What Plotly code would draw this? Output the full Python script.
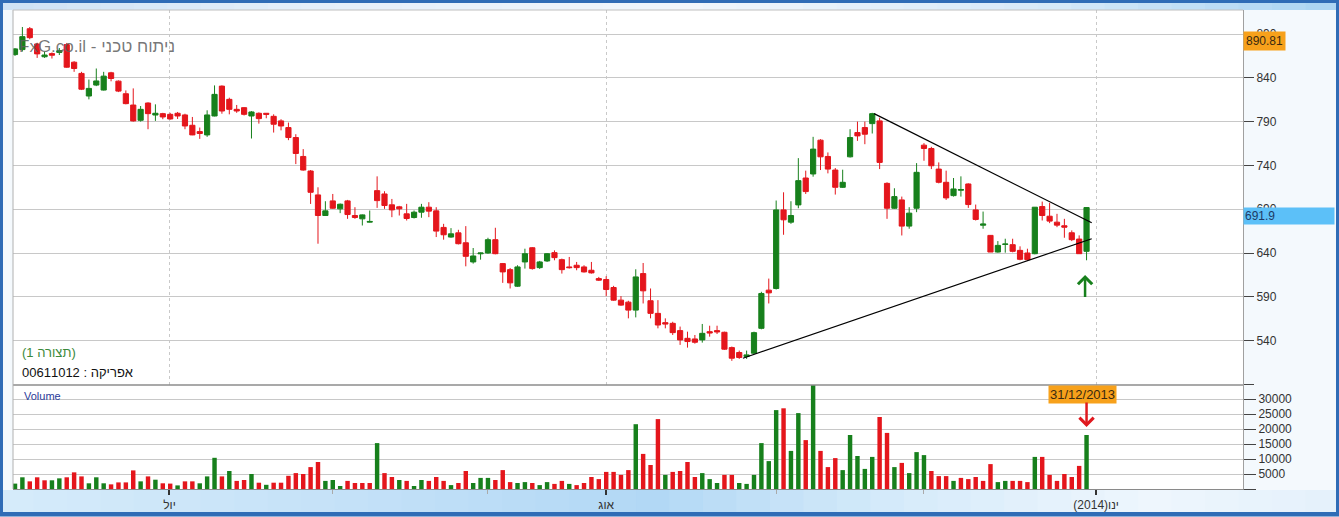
import plotly.graph_objects as go

# ---------------- data ----------------
idx = list(range(1, 147))

open_ = [866.5, 872.2, 896, 878.6, 864, 867.6, 869, 877.9, 857.8, 845,
         819.2, 831.7, 826, 845.7, 836.2, 821.8, 808.9, 791.5, 811.2, 797.5,
         799.1, 798.3, 799.5, 797.6, 785.8, 778.6, 774.8, 796.4, 830.5, 815.4,
         804, 805.9, 796.4, 799.5, 799.5, 796, 790.8, 783.2, 771.8, 750.2,
         733.6, 706.3, 682.8, 699.5, 690.4, 699.5, 682.8, 679, 675.2, 711.2,
         707.4, 695, 692.7, 684.7, 680.5, 686.6, 692.3, 688.1, 669.2, 658.2,
         663, 651.7, 629.8, 639.1, 640, 655.2, 627.9, 621, 602.1, 629.8,
         646, 623.3, 630.9, 640.4, 632.4, 624.1, 626, 624.1, 620.3, 610.8,
         609.7, 600.6, 586.2, 583.9, 574.8, 616.5, 585.5, 571.1, 560.5, 559.7,
         551.4, 542.6, 541.9, 540.8, 550.2, 551.4, 549.5, 532, 526.4, 521.8,
         525.6, 554, 597.6, 599.5, 689.2, 675.2, 694.9, 725.6, 730.2, 768.8,
         750.2, 734.7, 715, 749.8, 777.5, 783.2, 787.7, 790.8, 719.5, 691.1,
         700.6, 670.7, 691.1, 763.1, 759.3, 735.8, 720.7, 705.5, 711.6, 718.8,
         689.2, 671.7, 660.1, 641.1, 649.8, 649.5, 643, 640, 639.2, 693,
         682, 675.2, 671.1, 663.1, 655.9, 641.9]

high = [874, 898, 898, 880, 869.5, 869, 874, 879.8, 859, 846.8,
        838, 850.6, 846.8, 846.8, 837, 825.6, 827.9, 807.8, 812, 809.7,
        800, 800, 801, 799, 795.3, 783.2, 802.9, 831.3, 831.3, 817.3,
        809, 806.5, 802, 800.5, 799.8, 798.3, 792.7, 788.9, 775.6, 758.6,
        734.7, 715, 699.1, 707.4, 696.5, 700.6, 692.3, 684, 688.5, 727.5,
        710.5, 701.7, 693.8, 696.1, 688.5, 696.1, 698, 692.3, 673.3, 668.4,
        666.5, 670.7, 645.7, 640.4, 657.4, 668.8, 628.6, 622.9, 626, 644.9,
        646.8, 631, 640, 643, 633.6, 635.5, 629.8, 626, 629.8, 612.7,
        613.5, 602.5, 590.8, 585.5, 621.4, 628.6, 599.5, 586.2, 565.4, 561.5,
        556, 550.2, 546.4, 559, 557, 557, 550.2, 533.2, 528.6, 528.6,
        550.2, 595.7, 610.8, 699.9, 709.3, 699.1, 748.3, 734, 772.6, 769.9,
        754.8, 737, 735.1, 781.3, 790, 790, 800, 794.5, 720.7, 713.9,
        704.4, 692.3, 742.6, 765.4, 761.2, 743.4, 734, 725.6, 727.5, 719.5,
        695.3, 687.3, 660.5, 653.6, 656.3, 656.3, 647.6, 644.9, 692.3, 698.7,
        697.2, 684.7, 679, 665.8, 660.1, 692.3]

low = [865, 870, 884, 862.7, 862.7, 862, 866, 851.4, 846.8, 826,
       815.4, 830.5, 825.5, 836, 823.7, 809.7, 790, 790, 781.3, 790.8,
       792.7, 792.3, 793, 781.3, 774.5, 770.3, 772.6, 796, 799, 798.3,
       800, 797, 770.7, 787.7, 793.8, 777.5, 780, 768.8, 741.5, 734,
       696, 650.6, 682.5, 690.4, 685.5, 679, 679, 671.4, 674.8, 691.5,
       690.4, 680.9, 682.8, 677.1, 679.4, 680.2, 680.9, 658.2, 655.2, 657.4,
       649.8, 624.8, 627.9, 632.4, 639.2, 638.5, 605.9, 599.5, 601.3, 622.2,
       621, 621.8, 629.8, 631.7, 616.5, 622.2, 620.3, 617.7, 616.5, 608,
       590.8, 585.5, 579.7, 565.4, 566.5, 582.4, 565.4, 554, 554, 546.4,
       535.1, 532, 536.5, 537.7, 544.5, 547.5, 529.4, 516.9, 519.1, 519.1,
       524.8, 552.9, 582.4, 598.3, 660.8, 673.3, 691.1, 707.4, 727.1, 734.7,
       730.9, 706.7, 714.2, 749, 768, 764.2, 776.4, 735.8, 679, 690.4,
       660, 667.7, 686.6, 745.3, 735.8, 719.5, 700.6, 704.4, 704.4, 691.5,
       677.1, 667.7, 641.1, 640.4, 640.4, 640.8, 631.7, 630.9, 638.5, 677.1,
       674.1, 669.5, 657.4, 653.6, 638.9, 631.7]

close = [873, 887, 885.8, 867.3, 866, 865.8, 871, 852.1, 850.6, 827,
         827.9, 836.4, 841.9, 839.2, 824.8, 810.5, 790.8, 804, 799.1, 799.5,
         795.3, 793, 796.4, 785, 774.8, 776.4, 797.6, 821.1, 802.1, 804,
         802.1, 798.3, 801, 793.4, 798.3, 787, 785, 771.8, 753.6, 734.7,
         709.3, 682.8, 688.1, 691.1, 695.7, 683.9, 680.5, 683.5, 676, 699.8,
         694.2, 689.2, 690.4, 679.4, 686.6, 692.3, 687.8, 665, 660.8, 661.9,
         650.6, 636.2, 636.6, 640, 655.2, 639.2, 618.4, 605.9, 624.1, 639.2,
         622.2, 629.8, 639.2, 634.7, 621, 623.3, 623.3, 618.4, 617.3, 609,
         598.3, 586.2, 580.5, 574.8, 612.7, 596.8, 571.1, 557.8, 558.9, 549.1,
         540.8, 538.9, 538.1, 548.3, 548.7, 549.9, 530.2, 519.9, 520.7, 523.7,
         549.1, 593.8, 594.5, 689.2, 677.9, 682.8, 722.6, 710.1, 758.6, 749.8,
         735.8, 715, 720.7, 771.8, 773.7, 775.6, 799.1, 743.4, 691.1, 704.4,
         670.7, 685.5, 732.1, 759.3, 739.6, 720.7, 702.9, 713.1, 712.5, 695.3,
         678.3, 673.1, 641.1, 648.7, 650.2, 641.9, 632.8, 632.4, 692.3, 682.8,
         676.4, 671.8, 669.5, 655.2, 639.2, 691.9]

volume = [1800, 3900, 2550, 3900, 2900, 2900, 3550, 3900, 5550, 4200,
          1900, 3900, 1900, 1550, 2200, 2200, 6200, 2550, 4200, 3100,
          1900, 1800, 1200, 2550, 2550, 1900, 4200, 10400, 4200, 6000,
          2700, 3000, 5000, 2100, 1400, 2100, 2100, 4400, 5300, 5000,
          7300, 9000, 2700, 3000, 1000, 2700, 2000, 2000, 2000, 15300,
          5300, 4000, 3000, 2700, 1000, 3000, 2700, 4000, 2700, 1300,
          2000, 6000, 2000, 3700, 3700, 3000, 6300, 2300, 2000, 2300,
          2000, 1300, 2300, 1700, 2700, 1700, 1300, 2000, 4000, 3300,
          5700, 5700, 4700, 6300, 21600, 11700, 8000, 23300, 4700, 5700,
          6000, 9000, 4000, 5300, 3300, 2000, 4700, 4700, 2000, 1700,
          4700, 15300, 9300, 26300, 26900, 12700, 25300, 16300, 35000, 12700,
          7300, 10300, 6300, 18000, 11000, 6700, 10700, 24000, 18700, 7300,
          8700, 5300, 12300, 11300, 6000, 4300, 4300, 2700, 3700, 3300,
          4000, 2700, 8300, 2300, 2700, 2700, 2700, 2300, 10700, 10700,
          4700, 2700, 5000, 4000, 7700, 18000]

vol_dir = list("GGRRRGGRRR" "GGGRRRRGRG" "RRGRRGGGRG" "RRGRGRRRRR"
               "RRGGGRRRRG" "RRGRGGRRRG" "RRGGGRRRGG" "RGGRRGRRRR"
               "RRRRGRRRGR" "RRRGGGRRGG" "GGGGRGGRGR" "RRGGGGGRRG"
               "RGGGRRRGRR" "RRRGGRRRGR" "RRRRRG")

# trend lines (index, price)
upper_x = [117.25, 146.7]
upper_y = [799.1, 674.5]
lower_x = [99.5, 146.7]
lower_y = [519.9, 656.3]

price_ticks = [490, 540, 590, 640, 690, 740, 790, 840, 890]
price_tick_text = [""] + [str(v) for v in price_ticks[1:]]
vol_ticks = [0, 5000, 10000, 15000, 20000, 25000, 30000]
vol_tick_text = [""] + [str(v) for v in vol_ticks[1:]]

month_pos = [21.9, 81.0, 147.3]
month_labels = ["יול", "אוג", "(2014)ינו"]
minor_pos = [43.9, 64.9, 104.0, 124.0]

last_label = "691.9"
max_label = "890.81"
max_value = 890.81
date_label = "31/12/2013"

# ---------------- geometry ----------------
W, H = 1339, 517
ML, MR, MT, MB = 13, 96, 10, 28
PW = W - ML - MR
PH = H - MT - MB
STEP = 7.39
xmin = 1 - (15 - ML) / STEP
xmax = xmin + PW / STEP
PPX = 0.876
p_top = 640 + (253 - MT) / PPX
p_bot = 640 - (385 - 253) / PPX
vol_top = (H - MB - 385) / 15 * 5000


def px_x(px):
    return (px - ML) / PW


def px_y(py):
    return (H - MB - py) / PH


split = px_y(385)

GREEN = "#17801c"
RED = "#e4161c"
FONT = "Liberation Sans"

fig = go.Figure()
fig.add_trace(go.Candlestick(
    x=idx, open=open_, high=high, low=low, close=close,
    xaxis="x", yaxis="y",
    increasing=dict(line=dict(color=GREEN, width=1), fillcolor=GREEN),
    decreasing=dict(line=dict(color=RED, width=1), fillcolor=RED),
    whiskerwidth=0, hoverinfo="skip", showlegend=False))
fig.add_trace(go.Scatter(x=upper_x, y=upper_y, mode="lines",
                         line=dict(color="black", width=1.2),
                         xaxis="x", yaxis="y", hoverinfo="skip", showlegend=False))
fig.add_trace(go.Scatter(x=lower_x, y=lower_y, mode="lines",
                         line=dict(color="black", width=1.2),
                         xaxis="x", yaxis="y", hoverinfo="skip", showlegend=False))
fig.add_trace(go.Bar(x=idx, y=volume,
                     marker=dict(color=[GREEN if d == "G" else RED for d in vol_dir],
                                 line=dict(width=0)),
                     width=0.6, xaxis="x2", yaxis="y2",
                     hoverinfo="skip", showlegend=False))

axis_font = dict(family=FONT, size=12, color="#333")

fig.update_layout(
    width=W, height=H,
    autosize=False,
    margin=dict(l=ML, r=MR, t=MT, b=MB, pad=0, autoexpand=False),
    paper_bgcolor="#f4f9fd",
    plot_bgcolor="white",
    boxgap=0.3, boxgroupgap=0,
    showlegend=False,
    hovermode=False,
    xaxis=dict(domain=[0, 1], anchor="y", range=[xmin, xmax], automargin=False,
               tickvals=month_pos, showticklabels=False, ticks="",
               showgrid=True, griddash="dot", gridcolor="#c9c9c9", gridwidth=1,
               zeroline=False, rangeslider=dict(visible=False), fixedrange=True),
    yaxis=dict(domain=[split, 1], anchor="x", side="right", automargin=False,
               range=[p_bot, p_top], tickvals=price_ticks, ticktext=price_tick_text,
               ticks="outside", ticklen=10, tickcolor="#444", tickwidth=1,
               tickfont=axis_font, showgrid=True, gridcolor="#c8c8c8",
               showline=True, linecolor="#a0a0a0", zeroline=False),
    xaxis2=dict(domain=[0, 1], anchor="y2", range=[xmin, xmax], automargin=False,
                tickvals=month_pos, ticktext=month_labels,
                ticks="outside", ticklen=5, tickwidth=2, tickcolor="#333",
                tickfont=axis_font, showgrid=False, zeroline=False,
                showline=True, linecolor="#8a8a8a",
                minor=dict(tickvals=minor_pos, ticks="outside", ticklen=4,
                           tickcolor="#aaa", tickwidth=1, showgrid=False)),
    yaxis2=dict(domain=[0, split], anchor="x2", side="right", automargin=False,
                range=[0, vol_top], tickvals=vol_ticks, ticktext=vol_tick_text,
                ticks="outside", ticklen=12, tickcolor="#444", tickwidth=1,
                tickfont=dict(family=FONT, size=12, color="#333"),
                showgrid=True, gridcolor="#c8c8c8",
                showline=True, linecolor="#a0a0a0", zeroline=False),
)

shapes = []
# gradient strips (top & bottom) drawn as segments
bottom_stops = [(0, (214, 235, 250)), (350, (196, 225, 248)), (650, (178, 216, 245)),
                (900, (214, 235, 250)), (1150, (238, 246, 253)), (1339, (228, 240, 251))]
top_stops = [(0, (206, 226, 245)), (300, (228, 239, 250)), (700, (240, 246, 252)),
             (1050, (214, 233, 249)), (1339, (170, 212, 242))]


def interp(stops, x):
    for (x0, c0), (x1, c1) in zip(stops[:-1], stops[1:]):
        if x0 <= x <= x1:
            t = (x - x0) / (x1 - x0)
            return "rgb(%d,%d,%d)" % tuple(round(a + (b - a) * t) for a, b in zip(c0, c1))
    return "rgb(%d,%d,%d)" % stops[-1][1]


NSEG = 40
for i in range(NSEG):
    xa = W * i / NSEG
    xb = W * (i + 1) / NSEG + 1
    shapes.append(dict(type="rect", xref="paper", yref="paper", layer="below",
                       x0=px_x(xa), x1=px_x(xb), y0=px_y(512), y1=px_y(490),
                       fillcolor=interp(bottom_stops, (xa + xb) / 2), line=dict(width=0)))
    shapes.append(dict(type="rect", xref="paper", yref="paper", layer="below",
                       x0=px_x(xa), x1=px_x(xb), y0=px_y(MT), y1=px_y(0),
                       fillcolor=interp(top_stops, (xa + xb) / 2), line=dict(width=0)))
# panel separator
shapes.append(dict(type="line", xref="paper", yref="paper", x0=0, x1=1, y0=split, y1=split,
                   line=dict(color="#8c8c8c", width=1.5)))
# plot border left/top
shapes.append(dict(type="line", xref="paper", yref="paper", x0=0, x1=0, y0=0, y1=1,
                   line=dict(color="#b0b0b0", width=1)))
shapes.append(dict(type="line", xref="paper", yref="paper", x0=0, x1=1, y0=1, y1=1,
                   line=dict(color="#c0c0c0", width=1)))
# outer frame
shapes.append(dict(type="rect", xref="paper", yref="paper",
                   x0=px_x(1.5), x1=px_x(W - 1.5), y0=px_y(H - 2), y1=px_y(1.5),
                   line=dict(color="#2f6cb6", width=3), fillcolor="rgba(0,0,0,0)"))
shapes.append(dict(type="line", xref="paper", yref="paper",
                   x0=px_x(0), x1=px_x(W), y0=px_y(H - 3), y1=px_y(H - 3),
                   line=dict(color="#2f6cb6", width=4)))
fig.update_layout(shapes=shapes)

last = idx[-1]
ann = [
    dict(xref="paper", yref="paper", x=px_x(17), y=px_y(46.5), xanchor="left", yanchor="middle",
         text="FxG.co.il - ניתוח טכני", showarrow=False,
         font=dict(family=FONT, size=17, color="rgba(95,95,95,0.85)")),
    dict(xref="paper", yref="paper", x=px_x(20), y=px_y(352), xanchor="left", yanchor="middle",
         text="(תצורה 1)", showarrow=False,
         font=dict(family=FONT, size=13, color="#3b8a3b")),
    dict(xref="paper", yref="paper", x=px_x(20), y=px_y(372), xanchor="left", yanchor="middle",
         text="00611012 : אפריקה", showarrow=False,
         font=dict(family=FONT, size=13, color="#111")),
    dict(xref="paper", yref="paper", x=px_x(22), y=px_y(396), xanchor="left", yanchor="middle",
         text="Volume", showarrow=False,
         font=dict(family=FONT, size=11, color="#2b3b9a")),
    dict(xref="paper", yref="y", x=1, y=max_value, xanchor="left", yanchor="top", yshift=2,
         text=max_label, showarrow=False, bgcolor="#f7a11b", borderpad=2,
         font=dict(family=FONT, size=12, color="#3a2a10")),
    dict(xref="paper", yref="y", x=1, y=close[-1], xanchor="left", yanchor="top", yshift=1,
         text=last_label, showarrow=False, bgcolor="#5cc0f8", borderpad=1, width=88, align="left",
         font=dict(family=FONT, size=12, color="#1d3a66")),
    dict(xref="x2", yref="paper", x=last - 0.6, y=split, xanchor="center", yanchor="top",
         text=date_label, showarrow=False, bgcolor="#f7a11b", borderpad=1,
         font=dict(family=FONT, size=13, color="#3a2a10")),
    dict(xref="x2", yref="y2", x=last, y=20700, axref="x2", ayref="y2", ax=last, ay=29300,
         text="", showarrow=True, arrowhead=4, arrowsize=1.1, arrowwidth=2.5, arrowcolor="#e0191f"),
    dict(xref="x", yref="y", x=last - 0.2, y=615, axref="x", ayref="y", ax=last - 0.2, ay=588,
         text="", showarrow=True, arrowhead=4, arrowsize=1.1, arrowwidth=2.5, arrowcolor="#17801c"),
]
fig.update_layout(annotations=ann)

fig.write_html(
    "out.html",
    config={"displayModeBar": False, "responsive": False},
    post_script=("document.documentElement.style.margin='0';"
                 "document.body.style.margin='0';"
                 "document.documentElement.style.overflow='hidden';"
                 "document.body.style.overflow='hidden';"),
)
